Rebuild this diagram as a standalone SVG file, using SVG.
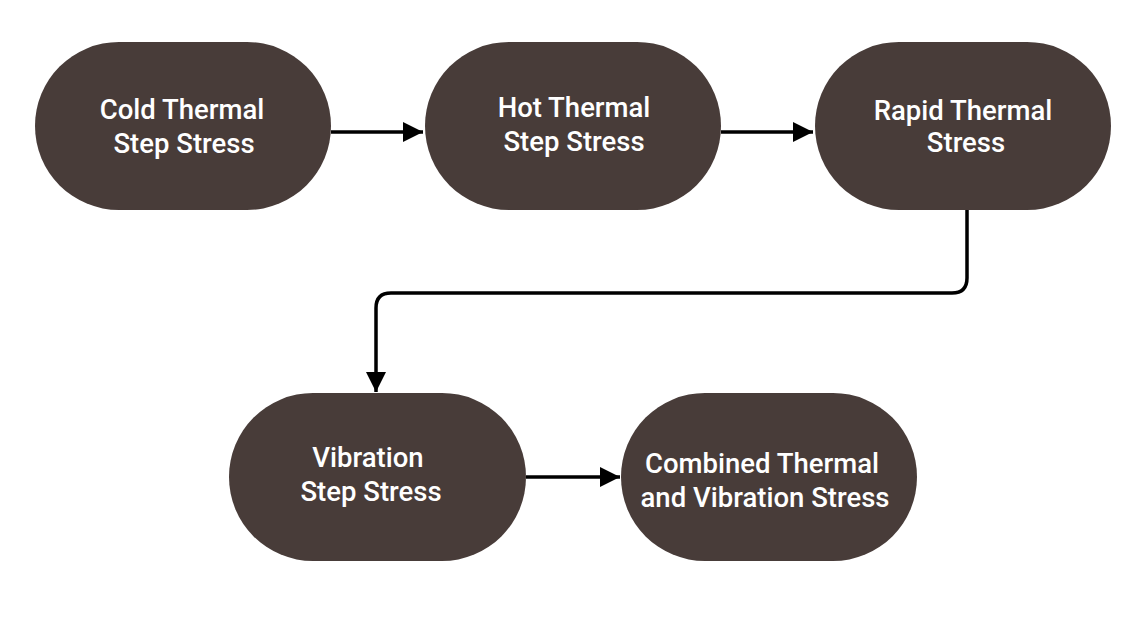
<svg xmlns="http://www.w3.org/2000/svg" width="1148" height="626" viewBox="0 0 1148 626">
<style>
.node{fill:#483c39}
.lbl{fill:#ffffff;font-family:Roboto,"Liberation Sans",sans-serif;font-weight:500;font-size:27.5px;text-anchor:middle}
.conn{stroke:#000;stroke-width:3.5;fill:none}
</style>
<defs>
<marker id="ah" markerWidth="20" markerHeight="20" refX="20" refY="10" orient="auto" markerUnits="userSpaceOnUse">
<path d="M0,0 L20,10 L0,20 z" fill="#000"/>
</marker>
</defs>
<rect width="1148" height="626" fill="#fff"/>
<g id="n1"><rect class="node" x="35" y="42" width="296" height="168" rx="84"/>
<text class="lbl" x="182" y="119">Cold Thermal</text><text class="lbl" x="184" y="153">Step Stress</text></g>
<g id="n2"><rect class="node" x="425" y="42" width="296" height="168" rx="84"/>
<text class="lbl" x="574" y="117">Hot Thermal</text><text class="lbl" x="574" y="151">Step Stress</text></g>
<g id="n3"><rect class="node" x="815" y="42" width="296" height="168" rx="84"/>
<text class="lbl" x="963" y="120">Rapid Thermal</text><text class="lbl" x="966" y="152">Stress</text></g>
<g id="n4"><rect class="node" x="229" y="393" width="297" height="168" rx="84"/>
<text class="lbl" x="368" y="467">Vibration</text><text class="lbl" x="371" y="501">Step Stress</text></g>
<g id="n5"><rect class="node" x="621" y="393" width="296" height="168" rx="84"/>
<text class="lbl" x="762" y="473">Combined Thermal</text><text class="lbl" x="765" y="507">and Vibration Stress</text></g>
<g id="connectors">
<path class="conn" d="M331,132 H423" marker-end="url(#ah)"/>
<path class="conn" d="M721,132 H813" marker-end="url(#ah)"/>
<path class="conn" d="M967,210 V278 Q967,293 952,293 H391 Q376,293 376,308 V392" marker-end="url(#ah)"/>
<path class="conn" d="M526,477 H620" marker-end="url(#ah)"/>
</g>
</svg>
